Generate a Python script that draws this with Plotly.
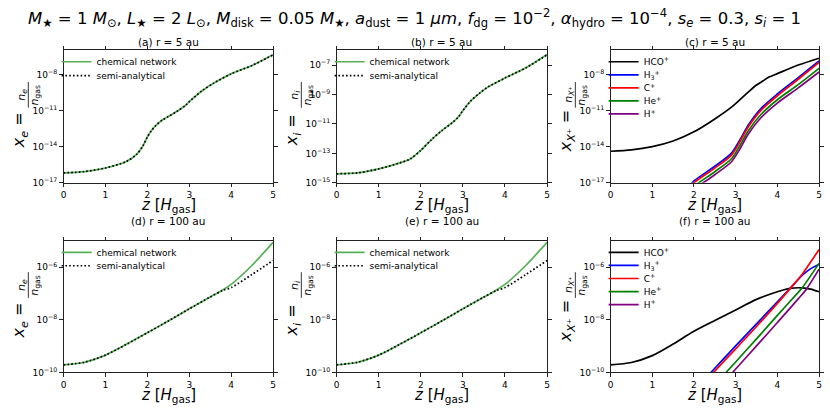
import plotly.graph_objects as go

# ---------------- data (log10 of abundances) ----------------
z_a = [0, 0.5, 1.0, 1.5, 1.75, 1.9, 2.0, 2.1, 2.2, 2.35, 2.5, 2.7, 2.9, 3.0, 3.3, 3.6, 4.0, 4.5, 5.0]
log_xe_a_chem = [-16.18, -16.07, -15.77, -15.23, -14.62, -13.9, -13.2, -12.65, -12.25, -11.8, -11.5, -11.08, -10.6, -10.26, -9.37, -8.69, -7.95, -7.25, -6.37]
log_xe_a_semi = [-16.18, -16.07, -15.77, -15.23, -14.62, -13.9, -13.2, -12.65, -12.25, -11.8, -11.5, -11.08, -10.6, -10.26, -9.37, -8.69, -7.95, -7.25, -6.37]

z_b = [0, 0.5, 1.0, 1.5, 1.75, 2.0, 2.25, 2.5, 2.75, 2.9, 3.0, 3.2, 3.4, 3.6, 4.0, 4.5, 5.0]
log_xi_b_chem = [-14.39, -14.33, -14.06, -13.65, -13.38, -12.8, -12.08, -11.45, -10.91, -10.51, -10.1, -9.4, -8.9, -8.48, -7.88, -7.18, -6.28]
log_xi_b_semi = [-14.39, -14.33, -14.06, -13.65, -13.38, -12.8, -12.08, -11.45, -10.91, -10.51, -10.1, -9.4, -8.9, -8.48, -7.88, -7.18, -6.3]

z_c_hco = [0, 0.5, 1.0, 1.5, 2.0, 2.5, 2.9, 3.3, 3.5, 3.65, 3.8, 4.0, 4.5, 5.0]
log_c_hco = [-14.38, -14.27, -14.0, -13.53, -12.77, -11.7, -10.72, -9.47, -8.88, -8.55, -8.22, -7.93, -7.22, -6.65]
z_c_ions = [1.9, 2.0, 2.5, 2.9, 3.1, 3.3, 3.6, 4.0, 4.5, 5.0]
log_c_h3 = [-17.25, -16.85, -15.63, -14.54, -13.45, -12.22, -10.85, -9.62, -8.26, -6.88]
log_c_cp = [-17.4, -17.0, -15.78, -14.7, -13.6, -12.37, -11.0, -9.77, -8.4, -7.0]
log_c_hep = [-17.7, -17.3, -16.08, -15.0, -13.92, -12.7, -11.35, -10.1, -8.85, -7.5]
log_c_hp = [-17.95, -17.55, -16.33, -15.25, -14.2, -12.97, -11.62, -10.38, -9.12, -7.8]

z_d = [0, 0.5, 1.0, 1.5, 2.0, 2.5, 3.0, 3.5, 3.8, 4.0, 4.5, 5.0]
log_xe_d_chem = [-9.71, -9.61, -9.34, -8.93, -8.49, -8.04, -7.58, -7.13, -6.86, -6.65, -5.92, -5.05]
log_xe_d_semi = [-9.71, -9.61, -9.34, -8.93, -8.49, -8.04, -7.58, -7.13, -6.88, -6.77, -6.27, -5.74]

z_e = [0, 0.5, 1.0, 1.5, 2.0, 2.5, 3.0, 3.5, 3.8, 4.0, 4.5, 5.0]
log_xi_e_chem = [-9.71, -9.61, -9.34, -8.93, -8.49, -8.04, -7.58, -7.13, -6.86, -6.65, -5.92, -5.05]
log_xi_e_semi = [-9.71, -9.61, -9.34, -8.93, -8.49, -8.04, -7.58, -7.13, -6.88, -6.77, -6.27, -5.74]

z_f_hco = [0, 0.5, 1.0, 1.5, 2.0, 2.5, 3.0, 3.5, 4.0, 4.3, 4.6, 4.8, 5.0]
log_f_hco = [-9.71, -9.62, -9.36, -8.92, -8.43, -8.02, -7.62, -7.22, -6.93, -6.8, -6.78, -6.83, -6.93]
z_f_h3 = [2.35, 2.5, 3.0, 3.5, 4.0, 4.3, 4.6, 4.8, 5.0]
log_f_h3 = [-10.1, -9.84, -8.99, -8.15, -7.31, -6.81, -6.3, -6.05, -5.88]
z_f_cp = [2.42, 2.5, 3.0, 3.5, 4.0, 4.3, 4.6, 5.0]
log_f_cp = [-10.1, -9.95, -9.1, -8.25, -7.37, -6.82, -6.25, -5.32]
z_f_hep = [2.7, 3.0, 3.5, 4.0, 4.5, 4.6, 5.0]
log_f_hep = [-10.12, -9.6, -8.72, -7.83, -6.95, -6.77, -5.85]
z_f_hp = [2.85, 3.0, 3.5, 4.0, 4.5, 4.7, 5.0]
log_f_hp = [-10.14, -9.87, -8.99, -8.1, -7.2, -6.82, -6.07]

x_ticks = [0, 1, 2, 3, 4, 5]
y_ticks_a = [-17, -14, -11, -8]
y_ticks_b = [-15, -13, -11, -9, -7]
y_ticks_c = [-17, -14, -11, -8]
y_ticks_bottom = [-10, -8, -6]

panel_titles = ["(a) r = 5 au", "(b) r = 5 au", "(c) r = 5 au",
                "(d) r = 100 au", "(e) r = 100 au", "(f) r = 100 au"]

# ---------------- layout helpers ----------------
W, H = 830, 415
FONT = "DejaVu Sans"
GREEN = "#55b155"
DOTS = "1.6px,2.2px"


def fx(p):
    return p / W


def fy(p):
    return 1 - p / H


cols = [(61, 272), (336, 548), (612, 822)]
rows = [(51, 185), (244, 377)]
title_gap = [8, 20]
xtitle_gap = [23, 23.5]
yranges = [(-17, -6), (-15, -6), (-17, -6), (-10, -5), (-10, -5), (-10, -5)]
yticks = [y_ticks_a, y_ticks_b, y_ticks_c, y_ticks_bottom, y_ticks_bottom, y_ticks_bottom]


def tenpow(vals):
    return [10 ** v for v in vals]


fig = go.Figure()
legend_count = [0]
layout_legends = {}


def add_line(k, z, logv, name, color, dash="solid", leg_px=None):
    legend_count[0] += 1
    lid = "legend" if legend_count[0] == 1 else f"legend{legend_count[0]}"
    fig.add_trace(go.Scatter(
        x=z, y=tenpow(logv), mode="lines", name=name,
        line=dict(color=color, width=1.7, dash=dash, shape="spline", smoothing=0.8),
        xaxis=f"x{k}" if k > 1 else "x", yaxis=f"y{k}" if k > 1 else "y",
        legend=lid, showlegend=True,
    ))
    lx, ly = leg_px
    layout_legends[lid] = dict(
        x=fx(lx), y=fy(ly), xanchor="left", yanchor="middle",
        bgcolor="rgba(0,0,0,0)", borderwidth=0, itemwidth=30,
        font=dict(family=FONT, size=9, color="black"),
    )


def leg_pos(k, i, step):
    col = cols[(k - 1) % 3]
    row = rows[(k - 1) // 3]
    return (col[0] - 7, row[0] + 11.5 + i * step)


# (a)
add_line(1, z_a, log_xe_a_chem, "chemical network", GREEN, leg_px=leg_pos(1, 0, 14))
add_line(1, z_a, log_xe_a_semi, "semi-analytical", "black", DOTS, leg_px=leg_pos(1, 1, 14))
# (b)
add_line(2, z_b, log_xi_b_chem, "chemical network", GREEN, leg_px=leg_pos(2, 0, 14))
add_line(2, z_b, log_xi_b_semi, "semi-analytical", "black", DOTS, leg_px=leg_pos(2, 1, 14))
# (c)
ion_names = ["HCO<sup>+</sup>", "H<sub>3</sub><sup>+</sup>", "C<sup>+</sup>", "He<sup>+</sup>", "H<sup>+</sup>"]
ion_colors = ["black", "#0000ff", "#ff0000", "#008000", "#800080"]
add_line(3, z_c_hco, log_c_hco, ion_names[0], ion_colors[0], leg_px=leg_pos(3, 0, 13.2))
for i, vals in enumerate([log_c_h3, log_c_cp, log_c_hep, log_c_hp]):
    add_line(3, z_c_ions, vals, ion_names[i + 1], ion_colors[i + 1], leg_px=leg_pos(3, i + 1, 13.2))
# (d)
add_line(4, z_d, log_xe_d_chem, "chemical network", GREEN, leg_px=leg_pos(4, 0, 13.5))
add_line(4, z_d, log_xe_d_semi, "semi-analytical", "black", DOTS, leg_px=leg_pos(4, 1, 13.5))
# (e)
add_line(5, z_e, log_xi_e_chem, "chemical network", GREEN, leg_px=leg_pos(5, 0, 13.5))
add_line(5, z_e, log_xi_e_semi, "semi-analytical", "black", DOTS, leg_px=leg_pos(5, 1, 13.5))
# (f)
f_series = [(z_f_hco, log_f_hco), (z_f_h3, log_f_h3), (z_f_cp, log_f_cp), (z_f_hep, log_f_hep), (z_f_hp, log_f_hp)]
for i, (zz, vals) in enumerate(f_series):
    add_line(6, zz, vals, ion_names[i], ion_colors[i], leg_px=leg_pos(6, i, 13.2))

layout = dict(
    width=W, height=H, margin=dict(l=0, r=0, t=0, b=0),
    paper_bgcolor="white", plot_bgcolor="white",
    font=dict(family=FONT, color="black"),
)
layout.update(layout_legends)

annotations = []
shapes = []
ylab_main = ["<i>x</i><sub><i>e</i></sub> =", "<i>x</i><sub><i>i</i></sub> =", "<i>x</i><sub><i>X</i>⁺</sub> ="]
ylab_num = ["<i>n</i><sub><i>e</i></sub>", "<i>n</i><sub><i>i</i></sub>", "<i>n</i><sub><i>X</i>⁺</sub>"]


def ann(text, x, y, size, angle=0):
    return dict(text=text, x=fx(x), y=fy(y), xref="paper", yref="paper", showarrow=False,
                textangle=angle, borderpad=0, font=dict(family=FONT, size=size, color="black"),
                xanchor="center", yanchor="middle")


for k in range(1, 7):
    l, r = cols[(k - 1) % 3]
    t, b = rows[(k - 1) // 3]
    ri = (k - 1) // 3
    sx = "" if k == 1 else str(k)
    layout[f"xaxis{sx}"] = dict(
        domain=[fx(l), fx(r)], anchor=f"y{sx}", range=[0, 5], tickvals=x_ticks,
        ticks="outside", ticklen=3.5, tickwidth=1, tickcolor="#222",
        showline=True, linecolor="#222", linewidth=1, mirror="ticks",
        showgrid=False, zeroline=False,
        tickfont=dict(family=FONT, size=9, color="black"),
    )
    lo, hi = yranges[k - 1]
    tv = yticks[k - 1]
    layout[f"yaxis{sx}"] = dict(
        domain=[fy(b), fy(t)], anchor=f"x{sx}", type="log", range=[lo, hi],
        tickvals=[10 ** v for v in tv], ticktext=[f"10<sup>−{-v}</sup>" for v in tv],
        ticks="outside", ticklen=3.5, tickwidth=1, tickcolor="#222",
        showline=True, linecolor="#222", linewidth=1, mirror="ticks",
        showgrid=False, zeroline=False,
        tickfont=dict(family=FONT, size=9, color="black"),
    )
    cx = (l + r) / 2
    cy = (t + b) / 2
    annotations.append(ann(panel_titles[k - 1], cx, t - title_gap[ri], 10.5))
    annotations.append(ann("<i>z</i> [<i>H</i><sub>gas</sub>]", cx, b + xtitle_gap[ri], 15))
    ci = (k - 1) % 3
    annotations.append(ann(ylab_main[ci], l - 44, cy + 14, 16, -90))
    annotations.append(ann(ylab_num[ci], l - 42, cy - 22, 11, -90))
    annotations.append(ann("<i>n</i><sub>gas</sub>", l - 29, cy - 22, 11, -90))
    shapes.append(dict(type="line", xref="paper", yref="paper", x0=fx(l - 35.5), x1=fx(l - 35.5),
                       y0=fy(cy - 35), y1=fy(cy - 9), line=dict(color="black", width=0.8)))

# overall title
annotations.append(ann(
    "<i>M</i><sub>★</sub> = 1 <i>M</i><sub>⊙</sub>, <i>L</i><sub>★</sub> = 2 <i>L</i><sub>⊙</sub>, "
    "<i>M</i><sub>disk</sub> = 0.05 <i>M</i><sub>★</sub>, <i>a</i><sub>dust</sub> = 1 <i>μm</i>, "
    "<i>f</i><sub>dg</sub> = 10<sup>−2</sup>, <i>α</i><sub>hydro</sub> = 10<sup>−4</sup>, "
    "<i>s</i><sub><i>e</i></sub> = 0.3, <i>s</i><sub><i>i</i></sub> = 1",
    414, 18, 16.5))

layout["annotations"] = annotations
layout["shapes"] = shapes
fig.update_layout(**layout)
fig.write_html("out.html", config={"displayModeBar": False},
               post_script="document.body.style.margin='0px';")
